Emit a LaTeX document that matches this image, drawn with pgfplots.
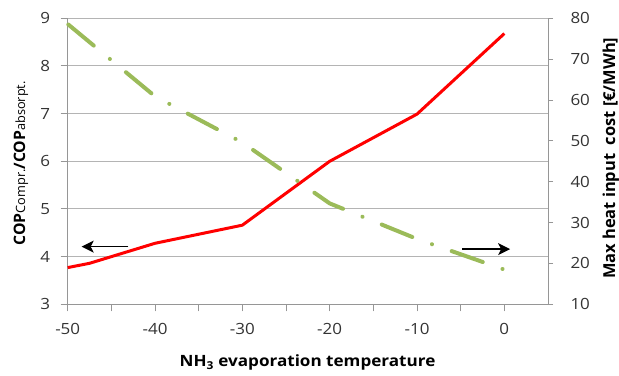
\documentclass[border=0pt]{standalone}
\usepackage{fontspec}
\setmainfont[FakeStretch=1.1]{Open Sans}
\newfontfamily\rotfont{Open Sans}
\usepackage{pgfplots}
\pgfplotsset{compat=1.18}
\usetikzlibrary{arrows.meta}
\definecolor{gridgray}{RGB}{180,180,180}
\definecolor{axgray}{RGB}{150,150,150}
\definecolor{exgreen}{RGB}{155,187,89}
\begin{document}
\begin{tikzpicture}
\useasboundingbox (0,0) rectangle (619bp,376bp);
\begin{axis}[
  at={(67.7bp,71.7bp)}, anchor=south west,
  scale only axis, width=480.3bp, height=286bp,
  xmin=-50, xmax=5, ymin=3, ymax=9,
  axis x line*=bottom, axis y line*=left,
  axis line style={draw=axgray, line width=1bp, -},
  tick align=outside,
  major tick length=7bp, minor tick length=7bp,
  every tick/.style={draw=axgray, line width=1bp},
  xtick={-50,-40,-30,-20,-10,0},
  xticklabels={-50,-40,-30,-20,-10,0},
  minor xtick={-45,-35,-25,-15,-5},
  ytick={3,4,5,6,7,8,9},
  yticklabels={3,4,5,6,7,8,9},
  ymajorgrids, grid style={draw=gridgray, line width=1bp},
  tick label style={font=\fontsize{15.5}{18}\selectfont, text=black!80},
  yticklabel style={xshift=-7bp},
  xticklabel style={yshift=-8bp},
  xlabel={\textbf{NH\textsubscript{3} evaporation temperature}},
  xlabel style={at={(axis description cs:0.4993,-0.205)}, anchor=center, font=\fontsize{15.6}{18}\selectfont},
  ylabel={\rotfont\textbf{COP}{\fontsize{12.8}{14}\selectfont Compr.}\textbf{/COP}{\fontsize{12.8}{14}\selectfont absorpt.}},
  ylabel style={at={(axis description cs:-0.0976,0.493)}, anchor=center, font=\fontsize{15.8}{18}\selectfont},
  clip=false,
]
\addplot[red, line width=3bp, line join=round] coordinates {
  (-50,3.77) (-47.5,3.86) (-40,4.28) (-30,4.66) (-20,6.0) (-10,6.99) (0,8.68)
};
\draw[black, line width=1.3bp, -{Stealth[length=12bp,width=12bp,inset=3bp]}] (axis cs:-43.06,4.21) -- (axis cs:-48.4,4.21);
\end{axis}
\begin{axis}[
  at={(67.7bp,71.7bp)}, anchor=south west,
  scale only axis, width=480.3bp, height=286bp,
  xmin=-50, xmax=5, ymin=10, ymax=80,
  axis x line=none, axis y line*=right,
  axis line style={draw=axgray, line width=1bp, -},
  tick align=outside,
  major tick length=5bp,
  every tick/.style={draw=axgray, line width=1bp},
  ytick={10,20,30,40,50,60,70,80},
  yticklabels={10,20,30,40,50,60,70,80},
  tick label style={font=\fontsize{15.5}{18}\selectfont, text=black!80},
  yticklabel style={xshift=14bp},
  ylabel={\rotfont\textbf{Max heat input\ \ cost [€/MWh]}},
  ylabel style={at={(axis description cs:1.1307,0.5105)}, anchor=center, font=\fontsize{16.5}{19}\selectfont},
  clip=false,
]
\addplot[exgreen, line width=4bp, line cap=round, line join=round,
  dash pattern=on 33bp off 20.9bp on 0.1bp off 20.8bp, dash phase=74bp] coordinates {
  (-50,78.6) (-40,60.9) (-30,49.6) (-20,34.7) (-10,26.0) (0,18.5)
};
\draw[black, line width=1.3bp, -{Stealth[length=12bp,width=12bp,inset=3bp]}] (axis cs:-4.8,23.5) -- (axis cs:0.66,23.5);
\end{axis}
\end{tikzpicture}
\end{document}
